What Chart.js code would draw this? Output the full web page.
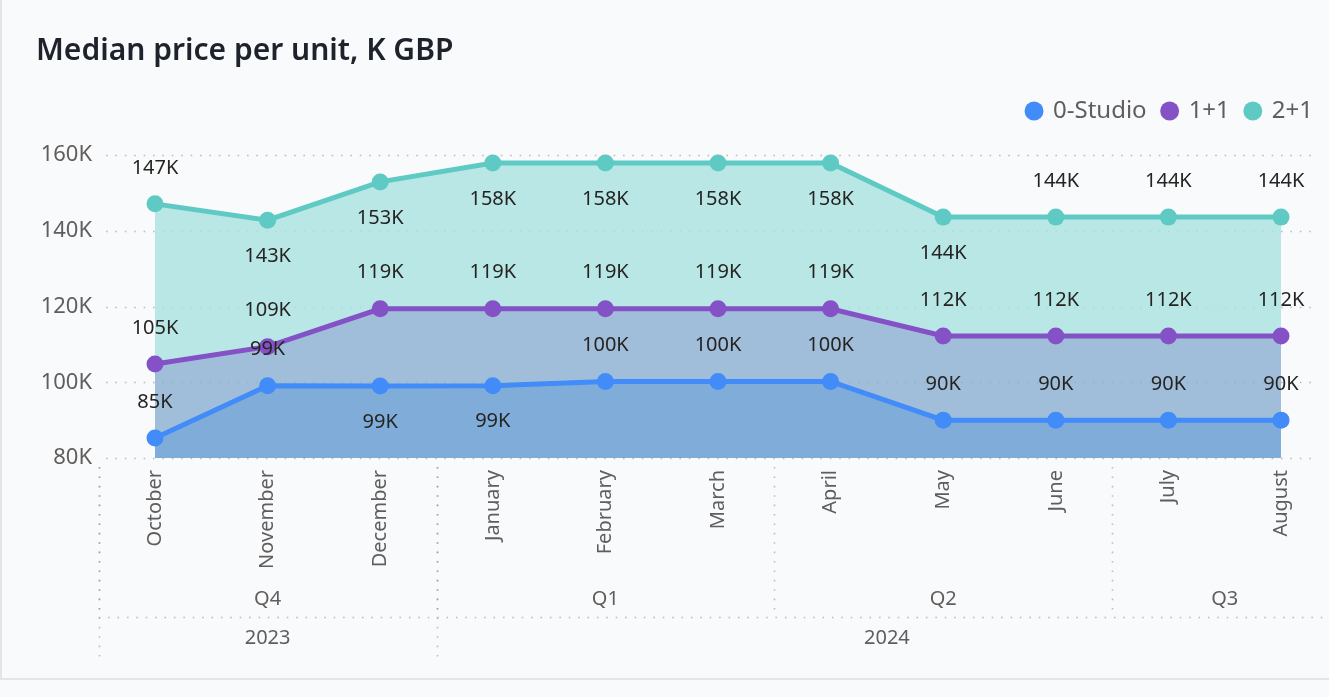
<!DOCTYPE html>
<html><head><meta charset="utf-8">
<script src="https://cdn.jsdelivr.net/npm/chart.js@4"></script>
<style>
html,body{margin:0;padding:0;background:#F9FAFC;}
#wrap{position:relative;width:1329px;height:697px;}
canvas{display:block;}
</style></head><body>
<div id="wrap"><canvas id="c" width="1329" height="697"></canvas></div>
<script>
// ---- data ----
const months = ['October','November','December','January','February','March','April','May','June','July','August'];
const monthQuarter = ['Q4','Q4','Q4','Q1','Q1','Q1','Q2','Q2','Q2','Q3','Q3'];
const monthYear = ['2023','2023','2023','2024','2024','2024','2024','2024','2024','2024','2024'];
const studio = [85.3, 99.1, 99.0, 99.1, 100.2, 100.2, 100.2, 90.0, 90.0, 90.0, 90.0];
const oneBed = [104.8, 109.4, 119.4, 119.4, 119.4, 119.4, 119.4, 112.2, 112.2, 112.2, 112.2];
const twoBed = [147.1, 142.8, 152.9, 157.9, 157.9, 157.9, 157.9, 143.6, 143.6, 143.6, 143.6];
const seriesNames = ['0-Studio', '1+1', '2+1'];
const yTicks = [80, 100, 120, 140, 160];

// label placement (style): above/below each point
const labelPlacement = [
  ['above','above','below','below','above','above','above','above','above','above','above'],
  ['above','above','above','above','above','above','above','above','above','above','above'],
  ['above','below','below','below','below','below','below','below','above','above','above']
];

const FONT = '"Noto Sans", "Open Sans", sans-serif';
const GRAY = '#605E5C';

function runs(arr){
  const out = [];
  arr.forEach((v,i)=>{
    if(!out.length || out[out.length-1].v !== v) out.push({v, s:i, e:i});
    else out[out.length-1].e = i;
  });
  return out;
}

const decor = {
  id: 'decor',
  beforeDatasetsDraw(chart){
    const ctx = chart.ctx, ys = chart.scales.y;
    ctx.save();
    ctx.strokeStyle = 'rgba(140,140,140,0.55)';
    ctx.lineWidth = 1.6;
    ctx.setLineDash([1.6, 7.8]);
    yTicks.forEach(t => {
      const y = Math.round(ys.getPixelForValue(t)) + 0.5;
      ctx.beginPath(); ctx.moveTo(106, y); ctx.lineTo(1316, y); ctx.stroke();
    });
    ctx.restore();
  },
  afterDatasetsDraw(chart){
    const ctx = chart.ctx;
    ctx.save();
    ctx.font = '20px ' + FONT;
    ctx.fillStyle = '#252423';
    ctx.textAlign = 'center';
    ctx.textBaseline = 'middle';
    chart.data.datasets.forEach((ds, di) => {
      const meta = chart.getDatasetMeta(di);
      meta.data.forEach((pt, i) => {
        const dy = labelPlacement[di][i] === 'above' ? -36 : 36;
        ctx.fillText(Math.round(ds.data[i]) + 'K', pt.x, pt.y + dy);
      });
    });
    ctx.restore();
  },
  afterDraw(chart){
    const ctx = chart.ctx, xs = chart.scales.x;
    const step = xs.getPixelForValue(1) - xs.getPixelForValue(0);
    const edge = i => xs.getPixelForValue(i) - step/2;
    const center = r => (xs.getPixelForValue(r.s) + xs.getPixelForValue(r.e)) / 2;
    ctx.save();
    ctx.strokeStyle = 'rgba(140,140,140,0.55)';
    ctx.lineWidth = 1.6;
    ctx.setLineDash([1.6, 7.8]);
    const vline = (x, y1, y2) => { x = Math.round(x) + 0.5; ctx.beginPath(); ctx.moveTo(x, y1); ctx.lineTo(x, y2); ctx.stroke(); };
    const qRuns = runs(monthQuarter), yRuns = runs(monthYear);
    qRuns.forEach(r => vline(edge(r.s), 467, 617));
    yRuns.forEach(r => vline(edge(r.s), 467, 660));
    ctx.beginPath(); ctx.moveTo(edge(0), 617.5); ctx.lineTo(1329, 617.5); ctx.stroke();
    ctx.setLineDash([]);
    ctx.font = '20px ' + FONT;
    ctx.fillStyle = GRAY;
    ctx.textAlign = 'center';
    ctx.textBaseline = 'middle';
    qRuns.forEach(r => ctx.fillText(r.v, center(r), 599));
    yRuns.forEach(r => ctx.fillText(r.v, center(r), 638));
    // card borders
    ctx.fillStyle = '#E4E5E8';
    ctx.fillRect(0, 678, 1329, 2);
    ctx.fillRect(0, 0, 2, 680);
    ctx.restore();
  }
};

const lineColors = ['#418CF8', '#8451C6', '#5FCAC4'];
const fillColors = ['rgba(98,153,207,0.8)', 'rgba(138,175,208,0.8)', 'rgba(169,226,222,0.8)'];
const seriesData = [studio, oneBed, twoBed];
const fills = ['start', '-1', '-1'];

new Chart(document.getElementById('c'), {
  type: 'line',
  data: {
    labels: months,
    datasets: seriesData.map((d, i) => ({
      label: seriesNames[i],
      data: d,
      borderColor: lineColors[i],
      backgroundColor: fillColors[i],
      pointBackgroundColor: lineColors[i],
      pointBorderWidth: 0,
      pointRadius: 8.5,
      borderWidth: 5,
      tension: 0,
      fill: fills[i],
      clip: false
    }))
  },
  options: {
    responsive: false,
    animation: false,
    devicePixelRatio: 1,
    events: [],
    layout: { padding: { left: 36, right: 0, top: 0, bottom: 0 } },
    plugins: {
      tooltip: { enabled: false },
      title: {
        display: true,
        text: 'Median price per unit, K GBP',
        align: 'start',
        color: '#1E222B',
        font: { family: FONT, size: 30, weight: '600', lineHeight: 1.2 },
        padding: { top: 33, bottom: 14 }
      },
      legend: {
        display: true,
        position: 'top',
        align: 'end',
        labels: {
          usePointStyle: true,
          boxWidth: 14,
          boxHeight: 13.4,
          padding: 16,
          color: GRAY,
          font: { family: FONT, size: 24 },
          generateLabels(chart){
            const items = Chart.defaults.plugins.legend.labels.generateLabels(chart);
            items.forEach(it => {
              const ds = chart.data.datasets[it.datasetIndex];
              it.fillStyle = ds.borderColor;
              it.strokeStyle = ds.borderColor;
              it.lineWidth = 0;
              it.pointStyle = 'circle';
            });
            return items;
          }
        }
      }
    },
    scales: {
      x: {
        type: 'category',
        offset: false,
        grid: { display: false, drawTicks: false },
        border: { display: false },
        ticks: {
          autoSkip: false,
          maxRotation: 90,
          minRotation: 90,
          padding: 12,
          color: GRAY,
          font: { family: FONT, size: 20 }
        },
        afterFit(s){ s.height = 239; }
      },
      xTop: {
        type: 'linear',
        position: 'top',
        display: true,
        grid: { display: false, drawTicks: false },
        border: { display: false },
        ticks: { display: false },
        afterFit(s){ s.height = 22; }
      },
      y: {
        type: 'linear',
        position: 'left',
        min: 80,
        max: 160,
        afterBuildTicks(s){ s.ticks = yTicks.map(v => ({ value: v })); },
        grid: { display: false, drawTicks: false },
        border: { display: false },
        ticks: {
          padding: 63,
          color: GRAY,
          font: { family: FONT, size: 22 },
          callback: v => v + 'K'
        },
        afterFit(s){ s.width = 119; }
      },
      yRight: {
        type: 'linear',
        position: 'right',
        display: true,
        grid: { display: false, drawTicks: false },
        border: { display: false },
        ticks: { display: false },
        afterFit(s){ s.width = 48; }
      }
    }
  },
  plugins: [decor]
});
</script>
</body></html>
